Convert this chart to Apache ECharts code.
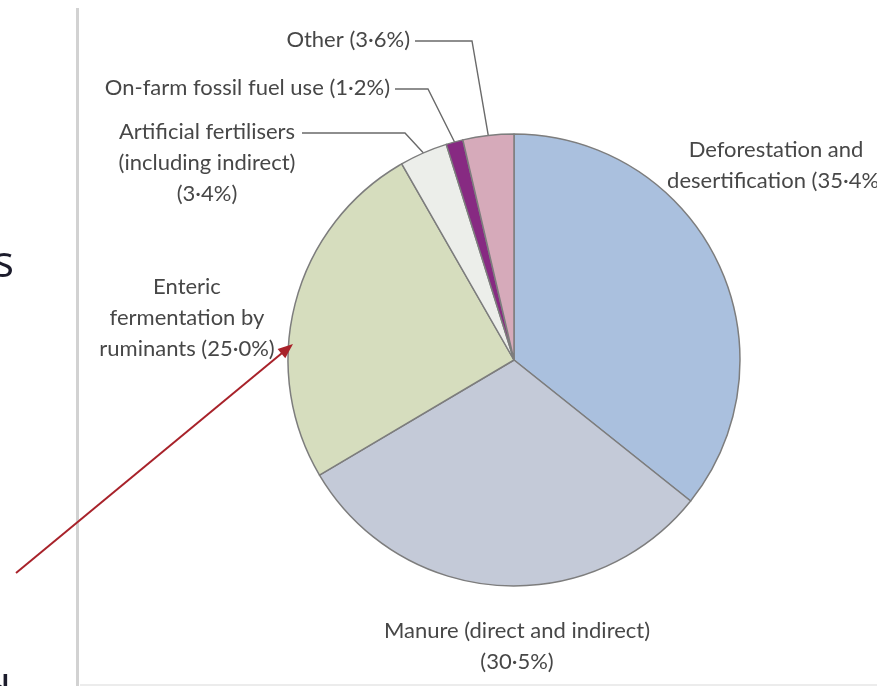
<!DOCTYPE html>
<html>
<head>
<meta charset="utf-8">
<title>Agricultural greenhouse gas emissions by source</title>
<script src="https://cdn.jsdelivr.net/npm/echarts@6/dist/echarts.min.js"></script>
<style>
  html, body { margin: 0; padding: 0; background: #ffffff; }
  #chart { width: 877px; height: 686px; }
</style>
</head>
<body>
<div id="chart"></div>
<script>
// Sources of agricultural emissions, clockwise from 12 o'clock
const categories = [
  'Deforestation and\ndesertification',
  'Manure (direct and indirect)',
  'Enteric\nfermentation by\nruminants',
  'Artificial fertilisers\n(including indirect)',
  'On-farm fossil fuel use',
  'Other'
];
const shares = [35.4, 30.5, 25.0, 3.4, 1.2, 3.6];
// whether the percentage sits on its own line under the name
const pctOwnLine = [false, true, false, true, false, false];
const sliceColors = ['#aac0de', '#c4cad8', '#d6ddbe', '#eceeea', '#872a82', '#d6aaba'];

// where each label block sits, and the elbow of its leader line (if any)
const labelPlacement = [
  { x: 776, y: 165, align: 'center' },
  { x: 517, y: 646, align: 'center' },
  { x: 187, y: 318, align: 'center' },
  { x: 207, y: 163, align: 'center', lineStart: [302, 133], elbow: [405, 133] },
  { x: 390, y: 88, align: 'right', lineStart: [395, 89], elbow: [428, 89] },
  { x: 410, y: 40, align: 'right', lineStart: [415, 41], elbow: [472, 41] }
];

function fmtPct(v) {
  return v.toFixed(1).replace('.', '\u00b7') + '%';
}

const chart = echarts.init(document.getElementById('chart'), null, { renderer: 'canvas' });

const pieData = categories.map((name, i) => ({
  name: name,
  value: shares[i],
  itemStyle: { color: sliceColors[i] },
  labelLine: { show: !!labelPlacement[i].elbow }
}));

// red pointer arrow toward the enteric fermentation label
const arrowFrom = [16, 573];
const arrowTo = [293, 344];
function arrowHead(from, to, len, half) {
  const dx = to[0] - from[0], dy = to[1] - from[1];
  const d = Math.sqrt(dx * dx + dy * dy);
  const ux = dx / d, uy = dy / d;
  const bx = to[0] - ux * len, by = to[1] - uy * len;
  return [to, [bx - uy * half, by + ux * half], [bx + uy * half, by - ux * half]];
}
const arrowLen = 15;
const arrowDist = Math.hypot(arrowTo[0] - arrowFrom[0], arrowTo[1] - arrowFrom[1]);
const arrowShaftEnd = [
  arrowTo[0] - (arrowTo[0] - arrowFrom[0]) / arrowDist * (arrowLen - 2),
  arrowTo[1] - (arrowTo[1] - arrowFrom[1]) / arrowDist * (arrowLen - 2)
];

chart.setOption({
  backgroundColor: '#ffffff',
  animation: false,
  graphic: [
    // slide divider
    { type: 'rect', shape: { x: 76, y: 8, width: 3, height: 680 }, style: { fill: '#d2d2d2' }, z: 1 },
    { type: 'rect', shape: { x: 80, y: 684, width: 800, height: 3 }, style: { fill: '#ececec' }, z: 1 },
    // fragments of slide text on the left
    { type: 'text', x: -7, y: 242, style: { text: 's', font: '44px "Open Sans", sans-serif', fill: '#1c1c2c' }, z: 2 },
    { type: 'text', x: -16, y: 673, style: { text: 'd', font: '44px "Open Sans", sans-serif', fill: '#1c1c2c' }, z: 2 },
    // arrow
    { type: 'line', shape: { x1: arrowFrom[0], y1: arrowFrom[1], x2: arrowShaftEnd[0], y2: arrowShaftEnd[1] },
      style: { stroke: '#a8222a', lineWidth: 2 }, z: 10 },
    { type: 'polygon', shape: { points: arrowHead(arrowFrom, arrowTo, arrowLen, 6) },
      style: { fill: '#a8222a' }, z: 10 }
  ],
  series: [{
    type: 'pie',
    center: [514, 360],
    radius: 226,
    startAngle: 90,
    clockwise: true,
    avoidLabelOverlap: false,
    silent: true,
    data: pieData,
    itemStyle: { borderColor: '#7d7d7d', borderWidth: 1.5 },
    label: {
      show: true,
      position: 'outside',
      color: '#474747',
      fontFamily: 'Lato, "Open Sans", sans-serif',
      fontSize: 22,
      lineHeight: 31,
      formatter: (p) => p.name + (pctOwnLine[p.dataIndex] ? '\n' : ' ') + '(' + fmtPct(p.value) + ')'
    },
    labelLine: {
      show: true,
      lineStyle: { color: '#6a6a6a', width: 1.4 }
    },
    labelLayout: (params) => {
      const pl = labelPlacement[params.dataIndex];
      const out = { x: pl.x, y: pl.y, align: pl.align, verticalAlign: 'middle' };
      if (pl.elbow && params.labelLinePoints) {
        out.labelLinePoints = [pl.lineStart, pl.elbow, params.labelLinePoints[0]];
      }
      return out;
    }
  }]
});
</script>
</body>
</html>
